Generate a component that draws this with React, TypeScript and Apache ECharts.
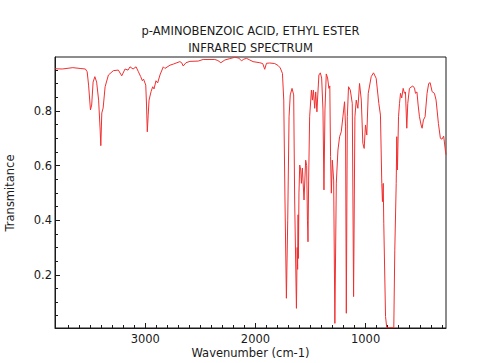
import React, { useEffect, useRef } from "react";
import * as echarts from "echarts";

const titleLines = ["p-AMINOBENZOIC ACID, ETHYL ESTER", "INFRARED SPECTRUM"];
const xAxisTitle = "Wavenumber (cm-1)";
const yAxisTitle = "Transmitance";

const xMajorTicks = [1000, 2000, 3000];
const xMinorTicks = [
  300, 400, 500, 600, 700, 800, 900, 1100, 1200, 1300, 1400, 1500, 1600, 1700, 1800, 1900,
  2100, 2200, 2300, 2400, 2500, 2600, 2700, 2800, 2900, 3100, 3200, 3300, 3400, 3500, 3600, 3700,
];
const yMajorTicks = [0.2, 0.4, 0.6, 0.8];
const yMinorTicks = [0.05, 0.1, 0.15, 0.25, 0.3, 0.35, 0.45, 0.5, 0.55, 0.65, 0.7, 0.75, 0.85, 0.9, 0.95];

// [wavenumber (cm-1), transmittance]
const spectrum: [number, number][] = [
  [3818, 0.955], [3755, 0.954], [3658, 0.959], [3592, 0.956], [3544, 0.954], [3528, 0.944],
  [3515, 0.895], [3498, 0.804], [3487, 0.822], [3474, 0.906], [3458, 0.926], [3442, 0.906],
  [3424, 0.84], [3410, 0.73], [3404, 0.673], [3395, 0.793], [3383, 0.811], [3365, 0.889],
  [3335, 0.932], [3290, 0.948], [3245, 0.95], [3214, 0.929], [3184, 0.954], [3157, 0.95],
  [3139, 0.962], [3111, 0.954], [3084, 0.962], [3063, 0.944], [3042, 0.926], [3027, 0.911],
  [3016, 0.917], [2996, 0.895], [2989, 0.822], [2982, 0.724], [2974, 0.785], [2966, 0.84],
  [2948, 0.871], [2933, 0.889], [2921, 0.881], [2903, 0.911], [2888, 0.903], [2867, 0.932],
  [2837, 0.962], [2822, 0.956], [2776, 0.968], [2746, 0.972], [2686, 0.981], [2670, 0.977],
  [2656, 0.965], [2631, 0.977], [2595, 0.982], [2520, 0.983], [2475, 0.989], [2369, 0.989],
  [2341, 0.985], [2314, 0.977], [2278, 0.987], [2233, 0.992], [2187, 0.997], [2151, 0.994],
  [2127, 0.984], [2106, 0.99], [2081, 0.993], [2051, 0.987], [2022, 0.981], [1961, 0.977],
  [1934, 0.974], [1916, 0.953], [1900, 0.975], [1870, 0.976], [1825, 0.974], [1795, 0.967],
  [1775, 0.958], [1755, 0.938], [1743, 0.84], [1732, 0.474], [1719, 0.114], [1707, 0.4],
  [1695, 0.779], [1684, 0.859], [1668, 0.883], [1653, 0.859], [1644, 0.474], [1628, 0.077],
  [1621, 0.3], [1617, 0.22], [1613, 0.42], [1610, 0.26], [1605, 0.5], [1598, 0.602],
  [1589, 0.584], [1583, 0.535], [1574, 0.591], [1559, 0.474], [1544, 0.62], [1535, 0.6],
  [1528, 0.4], [1525, 0.36], [1523, 0.321], [1517, 0.547], [1508, 0.779], [1492, 0.877],
  [1483, 0.84], [1474, 0.877], [1462, 0.81], [1453, 0.87], [1442, 0.797], [1434, 0.859],
  [1424, 0.932], [1411, 0.94], [1399, 0.921], [1387, 0.804], [1378, 0.511], [1369, 0.804],
  [1357, 0.936], [1345, 0.921], [1333, 0.883], [1325, 0.892], [1318, 0.633], [1311, 0.499],
  [1302, 0.62], [1290, 0.547], [1279, 0.022], [1266, 0.536], [1251, 0.657], [1236, 0.706],
  [1221, 0.724], [1206, 0.779], [1191, 0.834], [1182, 0.742], [1175, 0.059], [1166, 0.779],
  [1155, 0.889], [1139, 0.877], [1121, 0.828], [1109, 0.12], [1097, 0.779], [1085, 0.84],
  [1070, 0.81], [1055, 0.901], [1039, 0.84], [1025, 0.682], [1013, 0.663], [1001, 0.749],
  [989, 0.712], [976, 0.865], [949, 0.926], [928, 0.94], [904, 0.92], [880, 0.828],
  [865, 0.785], [853, 0.535], [847, 0.468], [840, 0.535], [835, 0.389], [819, 0.047],
  [808, 0.006], [744, 0.006], [735, 0.29], [722, 0.535], [717, 0.706], [711, 0.584],
  [701, 0.779], [692, 0.828], [683, 0.865], [672, 0.848], [659, 0.883], [647, 0.865],
  [638, 0.87], [626, 0.737], [617, 0.828], [602, 0.883], [572, 0.892], [556, 0.884],
  [547, 0.865], [534, 0.87], [523, 0.822], [511, 0.779], [496, 0.749], [487, 0.737],
  [475, 0.767], [460, 0.779], [442, 0.865], [427, 0.901], [414, 0.904], [396, 0.871],
  [375, 0.865], [360, 0.84], [339, 0.755], [321, 0.7], [307, 0.697], [291, 0.708],
  [276, 0.657], [270, 0.64],
];

const FONT = '"DejaVu Sans", sans-serif';
const INK = "#1a1a1a";

export default function App() {
  const ref = useRef<HTMLDivElement>(null);
  useEffect(() => {
    if (!ref.current) return;
    const chart = echarts.init(ref.current, undefined, { renderer: "svg" });
    const xBase = { type: "value", min: 270, max: 3820, inverse: true, position: "bottom", splitLine: { show: false } };
    const yBase = { type: "value", min: 0.005, max: 0.998, position: "left", splitLine: { show: false } };
    chart.setOption({
      animation: false,
      backgroundColor: "#ffffff",
      grid: { left: 55, right: 31, top: 57, bottom: 35, show: true, borderColor: INK, borderWidth: 1 },
      xAxis: [
        {
          ...xBase,
          axisLine: { show: true, lineStyle: { color: INK, width: 1 } },
          axisTick: { show: true, inside: true, length: 5, customValues: xMajorTicks, lineStyle: { color: INK } },
          axisLabel: {
            customValues: xMajorTicks,
            formatter: (v: number) => String(v),
            margin: 5,
            color: INK,
            fontFamily: FONT,
            fontSize: 11.5,
          },
        },
        {
          ...xBase,
          axisLine: { show: false },
          axisTick: { show: true, inside: true, length: 3, customValues: xMinorTicks, lineStyle: { color: INK } },
          axisLabel: { show: false },
        },
      ],
      yAxis: [
        {
          ...yBase,
          axisLine: { show: true, lineStyle: { color: INK, width: 1 } },
          axisTick: { show: true, inside: true, length: 5, customValues: yMajorTicks, lineStyle: { color: INK } },
          axisLabel: {
            customValues: yMajorTicks,
            formatter: (v: number) => v.toFixed(1),
            margin: 3,
            color: INK,
            fontFamily: FONT,
            fontSize: 11.5,
          },
        },
        {
          ...yBase,
          axisLine: { show: false },
          axisTick: { show: true, inside: true, length: 3, customValues: yMinorTicks, lineStyle: { color: INK } },
          axisLabel: { show: false },
        },
      ],
      graphic: [
        {
          type: "text",
          x: 250.5,
          y: 30.5,
          style: { text: titleLines[0], font: `11.5px ${FONT}`, fill: INK, align: "center", verticalAlign: "middle" },
        },
        {
          type: "text",
          x: 250.5,
          y: 47.5,
          style: { text: titleLines[1], font: `11.5px ${FONT}`, fill: INK, align: "center", verticalAlign: "middle" },
        },
        {
          type: "text",
          x: 250.5,
          y: 353,
          style: { text: xAxisTitle, font: `11.5px ${FONT}`, fill: INK, align: "center", verticalAlign: "middle" },
        },
        {
          type: "text",
          x: 10,
          y: 193,
          rotation: Math.PI / 2,
          style: { text: yAxisTitle, font: `11.5px ${FONT}`, fill: INK, align: "center", verticalAlign: "middle" },
        },
      ],
      series: [
        {
          type: "line",
          xAxisIndex: 0,
          yAxisIndex: 0,
          data: spectrum,
          showSymbol: false,
          symbol: "none",
          clip: true,
          lineStyle: { color: "#f03030", width: 1 },
        },
      ],
    });
    return () => chart.dispose();
  }, []);
  return <div ref={ref} style={{ position: "fixed", left: 0, top: 0, width: 477, height: 363 }} />;
}
